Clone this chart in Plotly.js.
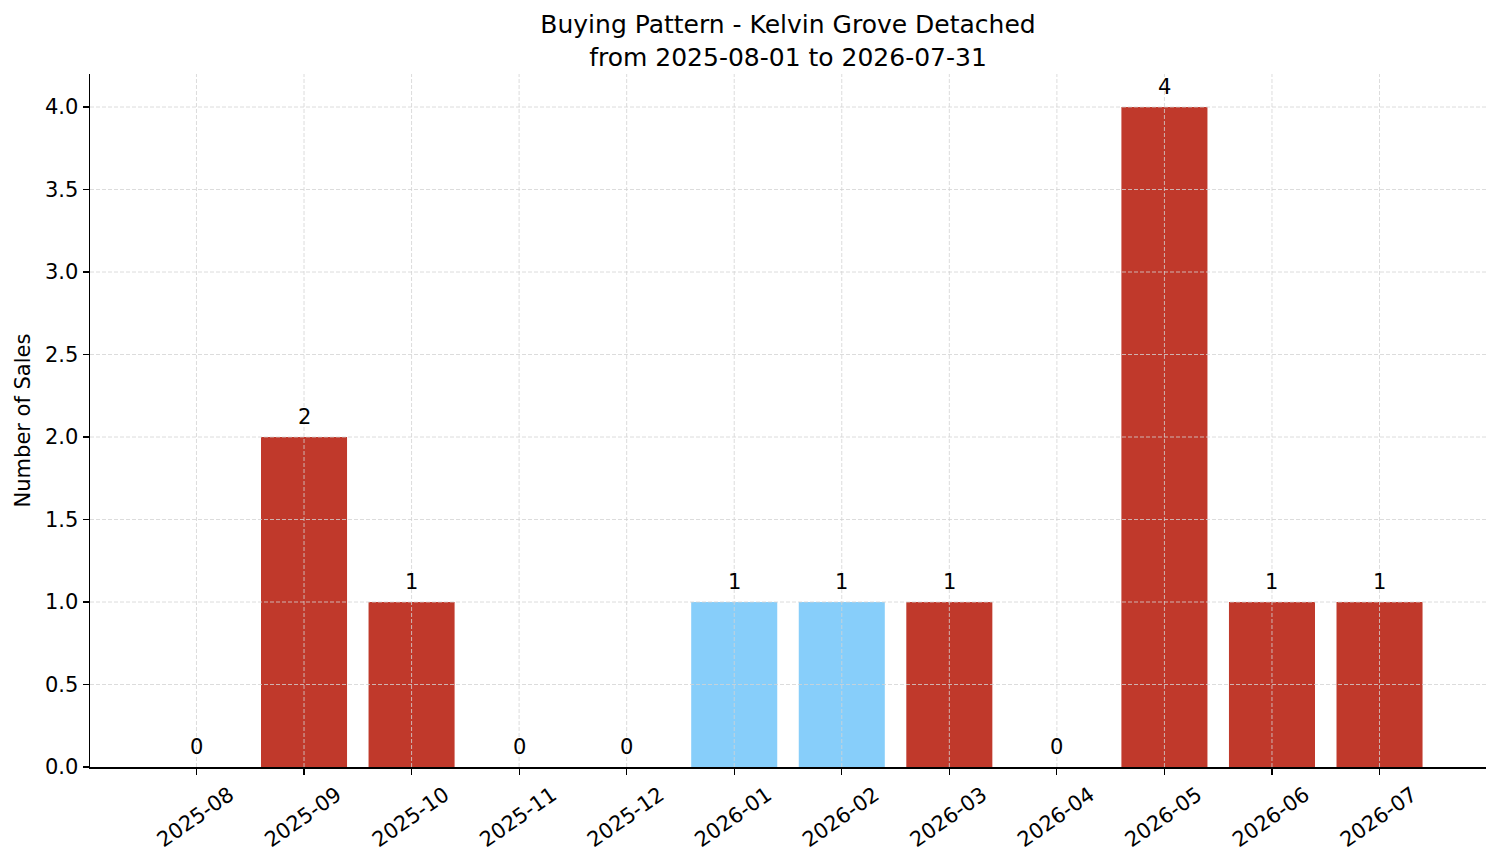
<!DOCTYPE html>
<html>
<head>
<meta charset="utf-8">
<script src="https://cdn.plot.ly/plotly-3.0.1.min.js"></script>
<style>
  html, body { margin: 0; padding: 0; background: #fff; }
  #chart { width: 1501px; height: 863px; }
</style>
</head>
<body>
<div id="chart"></div>
<script>
// months shown on the x axis
const months = ['2025-08', '2025-09', '2025-10', '2025-11', '2025-12', '2026-01',
                '2026-02', '2026-03', '2026-04', '2026-05', '2026-06', '2026-07'];
// number of sales per month
const sales = [0, 2, 1, 0, 0, 1, 1, 1, 0, 4, 1, 1];
// months highlighted in light blue
const highlighted = ['2026-01', '2026-02'];
const yTicks = [0, 0.5, 1, 1.5, 2, 2.5, 3, 3.5, 4];

const RED = '#C0392B';
const BLUE = '#87CEFA';
const FONT = 'DejaVu Sans, Verdana, sans-serif';
const GRID = '#d3d3d3';

const colors = months.map(m => highlighted.includes(m) ? BLUE : RED);

const bars = {
    type: 'bar',
    x: months,
    y: sales,
    marker: { color: colors, line: { width: 0 } },
    hoverinfo: 'x+y',
    showlegend: false
};

// value labels above each bar
const labels = months.map((m, i) => ({
    x: m, y: sales[i], xref: 'x', yref: 'y',
    text: String(sales[i]), showarrow: false,
    yanchor: 'bottom', yshift: 6,
    font: { family: FONT, size: 21, color: '#000' }
}));

// dashed grid drawn above the bars, as matplotlib does
const gridLine = { color: GRID, width: 0.8, dash: '4px,2px' };
const vGrid = months.map(m => ({
    type: 'line', layer: 'above', xref: 'x', yref: 'paper',
    x0: m, x1: m, y0: 0, y1: 1, line: gridLine
}));
const hGrid = yTicks.filter(v => v > 0).map(v => ({
    type: 'line', layer: 'above', xref: 'paper', yref: 'y',
    x0: 0, x1: 1, y0: v, y1: v, line: gridLine
}));

const layout = {
    width: 1501, height: 863,
    margin: { l: 90, r: 15, t: 74, b: 96 },
    paper_bgcolor: '#fff', plot_bgcolor: '#fff',
    font: { family: FONT, size: 21, color: '#000' },
    bargap: 0.2,
    title: {
        text: 'Buying Pattern - Kelvin Grove Detached<br>from 2025-08-01 to 2026-07-31',
        font: { family: FONT, size: 25, color: '#000' },
        x: 0.5, xref: 'paper', xanchor: 'center',
        y: 1 - 33 / 863, yref: 'container', yanchor: 'middle'
    },
    xaxis: {
        type: 'category',
        range: [-0.99, 11.99],
        tickangle: -35,
        ticklabelshift: 33,
        ticks: 'outside', ticklen: 6, tickwidth: 1.2, tickcolor: '#000',
        showgrid: false, zeroline: false,
        showline: true, linecolor: '#000', linewidth: 1.5,
        tickfont: { family: FONT, size: 21, color: '#000' }
    },
    yaxis: {
        range: [0, 4.2],
        tickvals: yTicks,
        tickformat: '.1f',
        ticks: 'outside', ticklen: 6, tickwidth: 1.2, tickcolor: '#000',
        showgrid: false, zeroline: false,
        showline: true, linecolor: '#000', linewidth: 1.5,
        tickfont: { family: FONT, size: 21, color: '#000' },
        title: { text: 'Number of Sales', standoff: 8, font: { family: FONT, size: 21, color: '#000' } }
    },
    annotations: labels,
    shapes: vGrid.concat(hGrid)
};

Plotly.newPlot('chart', [bars], layout, { displayModeBar: false, staticPlot: true });
</script>
</body>
</html>
